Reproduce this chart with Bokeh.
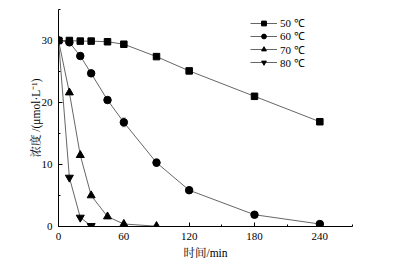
from bokeh.plotting import figure
from bokeh.models import FixedTicker, Legend, LegendItem, Whisker, ColumnDataSource, Range1d
from bokeh.embed import file_html
from bokeh.resources import INLINE

t50 = [0, 10, 20, 30, 45, 60, 90, 120, 180, 240]
c50 = [30.0, 30.0, 29.9, 29.9, 29.8, 29.4, 27.4, 25.1, 21.0, 16.9]
e50 = [0.2, 0.2, 0.2, 0.2, 0.2, 0.3, 0.3, 0.3, 0.2, 0.2]
t60 = [0, 10, 20, 30, 45, 60, 90, 120, 180, 240]
c60 = [30.0, 29.7, 27.5, 24.7, 20.4, 16.8, 10.3, 5.85, 1.9, 0.4]
e60 = [0.2, 0.3, 0.4, 0.5, 0.4, 0.7, 0.6, 0.5, 0.2, 0.2]
t70 = [0, 10, 20, 30, 45, 60, 90]
c70 = [30.0, 21.6, 11.5, 5.0, 1.6, 0.4, 0.05]
t80 = [0, 10, 20, 30]
c80 = [30.0, 7.9, 1.45, 0.1]
series_labels = ["50 ℃", "60 ℃", "70 ℃", "80 ℃"]
x_ticks = [0, 60, 120, 180, 240]
y_ticks = [0, 10, 20, 30]

FONT = "'Liberation Serif', 'Noto Serif CJK SC', 'Noto Sans CJK SC', serif"

p = figure(width=403, height=268, output_backend="svg", toolbar_location=None,
           x_range=Range1d(0, 270), y_range=Range1d(0, 35),
           min_border_left=58, min_border_right=51, min_border_top=9, min_border_bottom=42)
p.outline_line_color = None
p.xgrid.visible = False
p.ygrid.visible = False
p.background_fill_color = "white"
p.border_fill_color = "white"

for ax in (p.xaxis[0], p.yaxis[0]):
    ax.axis_line_color = "black"
    ax.axis_line_width = 1
    ax.major_tick_in = 4
    ax.major_tick_out = 0
    ax.minor_tick_in = 2
    ax.minor_tick_out = 0
    ax.major_tick_line_color = "black"
    ax.minor_tick_line_color = "black"
    ax.major_label_text_font = FONT
    ax.major_label_text_font_size = "11px"
    ax.major_label_text_color = "black"
    ax.axis_label_text_font = FONT
    ax.axis_label_text_font_size = "11.5px"
    ax.axis_label_text_font_style = "normal"
    ax.axis_label_text_color = "black"

p.xaxis.ticker = FixedTicker(ticks=x_ticks, minor_ticks=[30, 90, 150, 210, 270])
p.yaxis.ticker = FixedTicker(ticks=y_ticks, minor_ticks=[5, 15, 25, 35])
p.xaxis.axis_label = "时间/min"
p.yaxis.axis_label = "浓度 /(μmol·L⁻¹)"
p.xaxis.major_label_standoff = 6
p.xaxis.axis_label_standoff = 4
p.yaxis.major_label_standoff = 6
p.yaxis.axis_label_standoff = -3

LC = "#555555"
s50 = ColumnDataSource(dict(x=t50, y=c50, lo=[a - b for a, b in zip(c50, e50)], hi=[a + b for a, b in zip(c50, e50)]))
s60 = ColumnDataSource(dict(x=t60, y=c60, lo=[a - b for a, b in zip(c60, e60)], hi=[a + b for a, b in zip(c60, e60)]))
for src in (s50, s60):
    w = Whisker(source=src, base="x", lower="lo", upper="hi", line_color="#888888", line_width=0.8)
    w.upper_head.size = 4
    w.lower_head.size = 4
    w.upper_head.line_color = "#888888"
    w.lower_head.line_color = "#888888"
    p.add_layout(w)

l1 = p.line(t50, c50, line_color=LC, line_width=0.9)
m1 = p.scatter(t50, c50, marker="square", size=6.5, fill_color="black", line_color="black")
l2 = p.line(t60, c60, line_color=LC, line_width=0.9)
m2 = p.scatter(t60, c60, marker="circle", size=7.5, fill_color="black", line_color="black")
l3 = p.line(t70, c70, line_color=LC, line_width=0.9)
m3 = p.scatter(t70, c70, marker="triangle", size=8, fill_color="black", line_color="black")
l4 = p.line(t80, c80, line_color=LC, line_width=0.9)
m4 = p.scatter(t80, c80, marker="inverted_triangle", size=8, fill_color="black", line_color="black")

# one single-item legend per series so the row pitch matches the reference
offsets = [196, 182.7, 169.4, 156.1]
for lab, rs, off in zip(series_labels, [(l1, m1), (l2, m2), (l3, m3), (l4, m4)], offsets):
    lg = Legend(items=[LegendItem(label=lab, renderers=list(rs))], location=(192, off),
                border_line_color=None, background_fill_alpha=0, padding=0, margin=0, spacing=0,
                glyph_width=27, glyph_height=12, label_height=12,
                label_text_font="Liberation Serif", label_text_font_size="11px",
                label_text_color="black", label_standoff=3)
    p.add_layout(lg)

open("out.html", "w").write(file_html(p, INLINE))
